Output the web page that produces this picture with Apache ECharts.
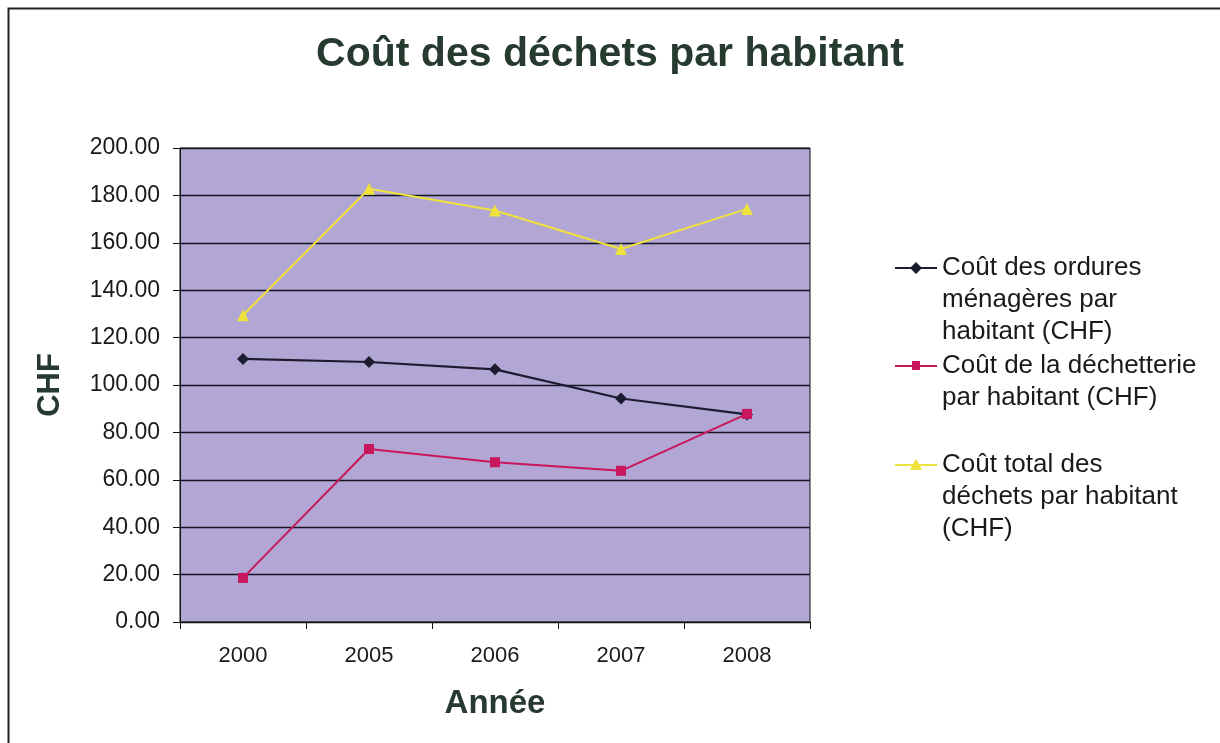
<!DOCTYPE html>
<html>
<head>
<meta charset="utf-8">
<title>Coût des déchets par habitant</title>
<script src="https://cdn.jsdelivr.net/npm/echarts@6/dist/echarts.min.js"></script>
<style>
  html, body { margin: 0; padding: 0; background: #fff; }
  #chart { width: 1220px; height: 743px; }
</style>
</head>
<body>
<div id="chart"></div>
<script>
// années (axe X)
const years = ['2000', '2005', '2006', '2007', '2008']
// coûts par habitant
const ordures = [111.0, 109.7, 106.6, 94.3, 87.6]
const dechetterie = [18.6, 73.0, 67.4, 63.8, 87.8]
const total = [129.4, 182.8, 173.6, 157.4, 174.3]
// noms de séries (retours à la ligne comme dans la légende)
const seriesNames = [
  'Coût des ordures\nménagères par\nhabitant (CHF)',
  'Coût de la déchetterie\npar habitant (CHF)',
  'Coût total des\ndéchets par habitant\n(CHF)'
]

const font = '"Liberation Sans", Arial, sans-serif'
const titleColor = '#263a30'
const colors = ['#1c1c30', '#c8175d', '#efe23c']

const chart = echarts.init(document.getElementById('chart'))

// icônes de légende : trait + marqueur calés sur la 1re ligne du texte
// (le "M0,h" final étire la boîte du chemin à la hauteur de l'entrée)
const lineH = 32
const mid = lineH / 2
const iconPaths = [
  h => `path://M0,0 M0,${mid - 1} L16,${mid - 1} L21,${mid - 6} L26,${mid - 1} L42,${mid - 1} L42,${mid + 1} L26,${mid + 1} L21,${mid + 6} L16,${mid + 1} L0,${mid + 1} Z M0,${h}`,
  h => `path://M0,0 M0,${mid - 1} L17,${mid - 1} L17,${mid - 5} L25,${mid - 5} L25,${mid - 1} L42,${mid - 1} L42,${mid + 1} L25,${mid + 1} L25,${mid + 4} L17,${mid + 4} L17,${mid + 1} L0,${mid + 1} Z M0,${h}`,
  h => `path://M0,0 M0,${mid - 1} L18,${mid - 1} L21,${mid - 6} L24,${mid - 1} L42,${mid - 1} L42,${mid + 1} L25,${mid + 1} L27,${mid + 5} L15,${mid + 5} L17,${mid + 1} L0,${mid + 1} Z M0,${h}`
]

// une légende par série pour placer chaque entrée comme dans l'original
const legendIconY = [268, 366, 465]
const legends = seriesNames.map((name, i) => {
  const h = name.split('\n').length * lineH
  return {
    data: [name],
    orient: 'vertical',
    left: 895,
    top: legendIconY[i] - mid,
    padding: 0,
    itemWidth: 42,
    itemHeight: h,
    icon: iconPaths[i](h),
    selectedMode: false,
    itemStyle: { color: colors[i], borderWidth: 0 },
    textStyle: {
      fontFamily: font,
      fontSize: 26,
      color: '#1a1a1a',
      lineHeight: lineH
    }
  }
})

const option = {
  animation: false,
  backgroundColor: '#ffffff',
  title: {
    text: 'Coût des déchets par habitant',
    left: 'center',
    top: 34,
    padding: 0,
    textStyle: {
      fontFamily: font,
      fontSize: 41,
      fontWeight: 'bold',
      color: titleColor
    }
  },
  legend: legends,
  grid: {
    left: 180,
    right: 410,
    top: 148,
    bottom: 121,
    show: true,
    backgroundColor: '#b2a6d4',
    borderColor: '#111',
    borderWidth: 1
  },
  xAxis: {
    type: 'category',
    data: years,
    name: 'Année',
    nameLocation: 'middle',
    nameGap: 65,
    nameTextStyle: {
      fontFamily: font,
      fontSize: 33,
      fontWeight: 'bold',
      color: titleColor
    },
    axisLine: { lineStyle: { color: '#111', width: 1 } },
    axisTick: { show: true, length: 7, lineStyle: { color: '#111' } },
    axisLabel: {
      fontFamily: font,
      fontSize: 22,
      color: '#1a1a1a',
      margin: 23
    }
  },
  yAxis: {
    type: 'value',
    min: 0,
    max: 200,
    interval: 20,
    name: 'CHF',
    nameLocation: 'middle',
    nameGap: 114,
    nameTextStyle: {
      fontFamily: font,
      fontSize: 31,
      fontWeight: 'bold',
      color: titleColor
    },
    axisLine: { show: true, lineStyle: { color: '#111', width: 1 } },
    axisTick: { show: true, length: 7, lineStyle: { color: '#111' } },
    axisLabel: {
      fontFamily: font,
      fontSize: 23,
      color: '#1a1a1a',
      margin: 20,
      formatter: v => v.toFixed(2)
    },
    splitLine: { lineStyle: { color: '#141420', width: 1.3 } }
  },
  series: [
    {
      name: seriesNames[0],
      type: 'line',
      data: ordures,
      symbol: 'diamond',
      symbolSize: 12,
      lineStyle: { color: colors[0], width: 2.2 },
      itemStyle: { color: colors[0] }
    },
    {
      name: seriesNames[1],
      type: 'line',
      data: dechetterie,
      symbol: 'rect',
      symbolSize: 10,
      lineStyle: { color: colors[1], width: 2 },
      itemStyle: { color: colors[1] }
    },
    {
      name: seriesNames[2],
      type: 'line',
      data: total,
      symbol: 'triangle',
      symbolSize: 12,
      lineStyle: { color: colors[2], width: 2 },
      itemStyle: { color: colors[2] }
    }
  ],
  graphic: [
    {
      // cadre de la feuille scannée
      type: 'rect',
      silent: true,
      shape: { x: 8.5, y: 8.5, width: 1240, height: 760 },
      style: { fill: null, stroke: '#222', lineWidth: 2 }
    }
  ]
}

chart.setOption(option)
</script>
</body>
</html>
